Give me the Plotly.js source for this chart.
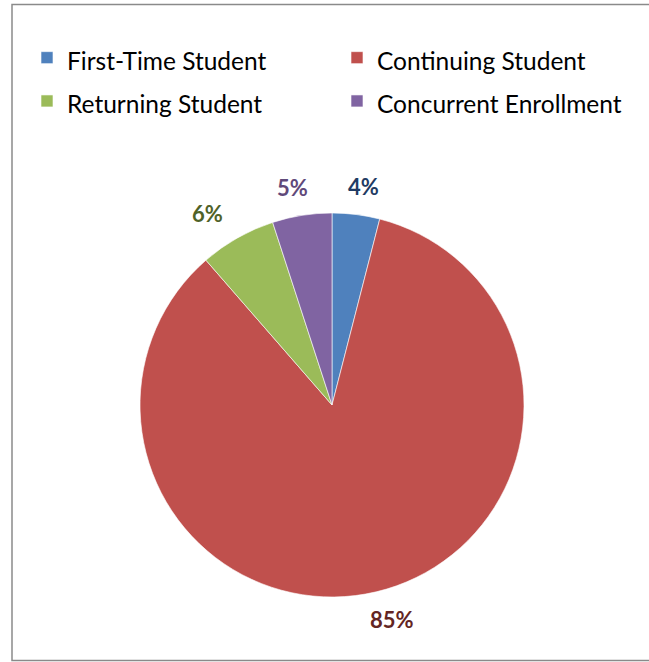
<!DOCTYPE html>
<html>
<head>
<meta charset="utf-8">
<script src="https://cdn.plot.ly/plotly-3.0.1.min.js"></script>
<style>html,body{margin:0;padding:0;background:#fff;}#chart{width:649px;height:662px;}</style>
</head>
<body>
<div id="chart"></div>
<script>
const categories = ["First-Time Student", "Continuing Student", "Returning Student", "Concurrent Enrollment"];
const percentValues = [4.0, 84.6, 6.4, 5.0];
const sliceColors = ["#4F81BD", "#C0504D", "#9BBB59", "#8064A2"];
const labelColors = ["#1F3B63", "#632523", "#4F6228", "#5F497A"];

const W = 649, H = 662;
const cx = 332, cy = 405, r = 192;
const FONT = "Lato, 'Open Sans', sans-serif";

// legend text rendered at 24px while legend row height is driven by the legend font size
const legendLabels = categories.map(c => `<span style="font-size:24.5px">${c}</span>`);

const trace = {
  type: "pie",
  labels: legendLabels,
  values: percentValues,
  sort: false,
  direction: "clockwise",
  rotation: 0,
  marker: { colors: sliceColors, line: { color: "#ffffff", width: 0.6 } },
  textinfo: "none",
  hoverinfo: "skip",
  domain: { x: [(cx - r) / W, (cx + r) / W], y: [(H - cy - r) / H, (H - cy + r) / H] },
  showlegend: true
};

// percentage labels placed outside each slice, at its mid-angle (computed from the values)
const total = percentValues.reduce((a, b) => a + b, 0);
let cum = 0;
const annotations = percentValues.map((v, i) => {
  const mid = (cum + v / 2) / total * 2 * Math.PI;
  cum += v;
  const txt = Math.round(v / total * 100) + "%";
  const w = txt.length * 12, h = 22;
  const R = r + 17;
  const px = cx + (R * 1.12 + w / 2 + 8 * Math.abs(Math.cos(mid))) * Math.sin(mid);
  const py = cy - (R + h / 2) * Math.cos(mid);
  return {
    xref: "paper", yref: "paper",
    x: px / W, y: 1 - py / H,
    xanchor: "center", yanchor: "middle",
    text: "<b>" + txt + "</b>",
    showarrow: false,
    font: { family: FONT, size: 22, color: labelColors[i] }
  };
});

const layout = {
  width: W, height: H,
  margin: { l: 0, r: 0, t: 0, b: 0 },
  paper_bgcolor: "#ffffff",
  plot_bgcolor: "#ffffff",
  showlegend: true,
  legend: {
    orientation: "h",
    x: 27 / W, y: 1 - 31 / H,
    xanchor: "left", yanchor: "top",
    entrywidth: 265, entrywidthmode: "pixels",
    font: { family: FONT, size: 31, color: "#000000" },
    itemwidth: 30,
    traceorder: "normal"
  },
  annotations: annotations,
  shapes: [{
    type: "rect", xref: "paper", yref: "paper",
    x0: 12 / W, x1: 1.02, y0: 1.5 / H, y1: 1 - 4.5 / H,
    line: { color: "#8a8a8a", width: 1.5 }, fillcolor: "rgba(0,0,0,0)"
  }]
};

Plotly.newPlot("chart", [trace], layout, { displayModeBar: false, staticPlot: true });
</script>
</body>
</html>
